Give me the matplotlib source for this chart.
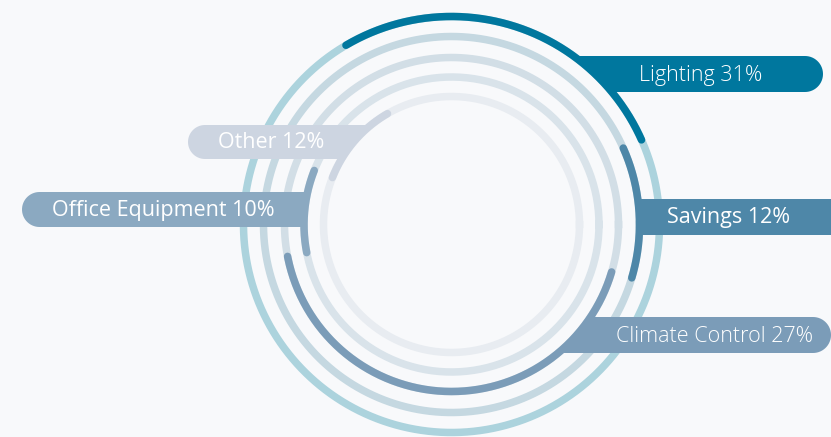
import numpy as np
import matplotlib.pyplot as plt
from matplotlib.patches import Polygon

# Segments (arc sweep in degrees, clockwise from the start)
labels = ['Lighting', 'Savings', 'Climate Control', 'Office Equipment', 'Other']
percents = [31, 12, 27, 10, 12]
sweep_deg = [96.5, 40.5, 152.5, 32.5, 38.5]
start_deg = 120.5

colors = ['#00779e', '#4e87a8', '#7b9cb8', '#8ba9c1', '#cdd5e1']
track_colors = ['#acd3dd', '#c5d8e1', '#d2dee6', '#d9e3ea', '#e8ecf1']
weights = ['light', 'normal', 'light', 'normal', 'normal']

bg = '#f8f9fb'
cx, cy = 451.5, 224.5
radii = [208, 188, 167, 147.5, 128]
lw_px = 7.5

# label pills: (side, y top, y bottom, outer end x, text x centre)
pills = [
    ('right', 56, 92, 823, 701),
    ('right', 199, 235, 870, 729),
    ('right', 317, 353, 831, 714),
    ('left', 192, 227, 22, 163),
    ('left', 125, 159, 188, 271),
]

fig = plt.figure(figsize=(8.31, 4.37), dpi=100, facecolor=bg)
ax = fig.add_axes([0, 0, 1, 1])
ax.set_facecolor(bg)
ax.set_xlim(0, 831)
ax.set_ylim(437, 0)
ax.set_aspect('equal')
ax.axis('off')

lw = lw_px * 0.72

# background tracks
t = np.linspace(0, 2 * np.pi, 400)
for r, c in zip(radii, track_colors):
    ax.plot(cx + r * np.cos(t), cy - r * np.sin(t), color=c, lw=lw, zorder=1)


def pill_shape(side, r, y0, y1, x_end):
    h = y1 - y0
    rr = h / 2
    ys = np.linspace(y1, y0, 30)
    xs = np.sqrt(np.maximum(r ** 2 - (ys - cy) ** 2, 0))
    if side == 'right':
        edge = np.column_stack([cx + xs, ys])
        a = np.linspace(np.pi / 2, -np.pi / 2, 30)
        cap = np.column_stack([x_end - rr + rr * np.cos(a), (y0 + rr) - rr * np.sin(a)])
    else:
        edge = np.column_stack([cx - xs, ys])
        a = np.linspace(np.pi / 2, 3 * np.pi / 2, 30)
        cap = np.column_stack([x_end + rr + rr * np.cos(a), (y0 + rr) - rr * np.sin(a)])
    return np.vstack([edge, cap])


# label pills
for i, (side, y0, y1, x_end, tx) in enumerate(pills):
    pts = pill_shape(side, radii[i], y0, y1, x_end)
    ax.add_patch(Polygon(pts, closed=True, facecolor=colors[i], edgecolor='none', zorder=2))
    ax.text(tx, (y0 + y1) / 2 + 1, f'{labels[i]} {percents[i]}%', color='white',
            fontsize=15.5, family='Open Sans', fontweight=weights[i],
            ha='center', va='center', zorder=4)

# value arcs
a0 = start_deg
for i, sw in enumerate(sweep_deg):
    th = np.radians(np.linspace(a0, a0 - sw, 200))
    ax.plot(cx + radii[i] * np.cos(th), cy - radii[i] * np.sin(th), color=colors[i],
            lw=lw, solid_capstyle='round', zorder=3)
    a0 -= sw

fig.savefig('out.png', dpi=100, facecolor=bg)
